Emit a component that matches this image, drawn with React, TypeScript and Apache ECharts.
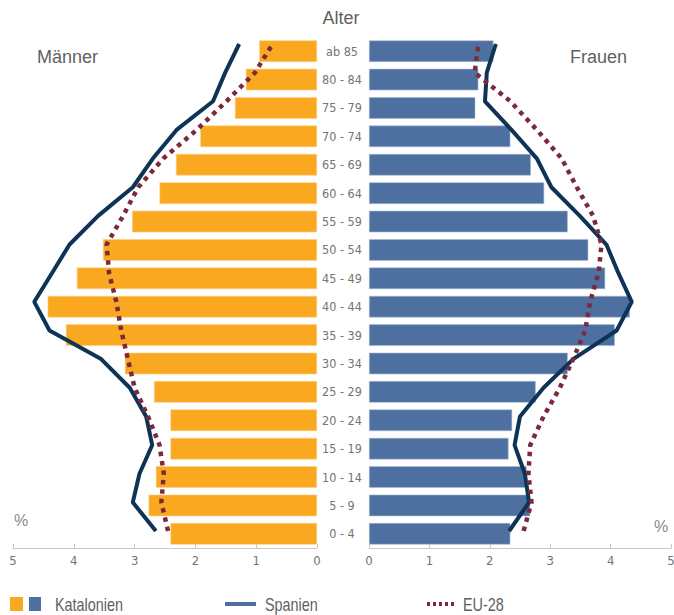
import React, { useEffect, useRef } from "react";
import * as echarts from "echarts";

const ageGroups = ["0 - 4", "5 - 9", "10 - 14", "15 - 19", "20 - 24", "25 - 29", "30 - 34", "35 - 39", "40 - 44", "45 - 49", "50 - 54", "55 - 59", "60 - 64", "65 - 69", "70 - 74", "75 - 79", "80 - 84", "ab 85"];
const xTicks = [0, 1, 2, 3, 4, 5];

// Katalonien
const kataMaenner = [2.41, 2.77, 2.65, 2.41, 2.41, 2.68, 3.16, 4.13, 4.43, 3.95, 3.52, 3.04, 2.59, 2.32, 1.92, 1.35, 1.17, 0.95];
const kataFrauen = [2.34, 2.67, 2.61, 2.31, 2.37, 2.76, 3.29, 4.07, 4.32, 3.91, 3.63, 3.29, 2.9, 2.68, 2.34, 1.76, 1.81, 2.06];
// Spanien
const spanMaenner = [2.65, 3.03, 2.92, 2.71, 2.81, 3.08, 3.55, 4.4, 4.65, 4.36, 4.07, 3.6, 3.03, 2.7, 2.31, 1.71, 1.51, 1.28];
const spanFrauen = [2.32, 2.65, 2.58, 2.41, 2.5, 2.89, 3.38, 4.1, 4.35, 4.13, 3.93, 3.49, 3.02, 2.78, 2.36, 1.92, 1.95, 2.1];
// EU-28
const euMaenner = [2.45, 2.56, 2.52, 2.59, 2.78, 3.0, 3.11, 3.22, 3.3, 3.42, 3.46, 3.19, 2.94, 2.53, 1.98, 1.49, 1.02, 0.73];
const euFrauen = [2.56, 2.69, 2.64, 2.67, 2.89, 3.16, 3.38, 3.58, 3.66, 3.8, 3.85, 3.71, 3.44, 3.19, 2.78, 2.34, 1.75, 1.81];

const ORANGE = "#F9A81F";
const BLUE = "#4E70A0";
const NAVY = "#0D3457";
const EU = "#7A2A3C";
const TXT = "#5f5f5f";
const LBL = "#747474";
const AX = "#c8c8c8";
const NARROW = "'DejaVu Sans Condensed', 'Liberation Sans Narrow', sans-serif";
const SANS = "'Liberation Sans', Arial, sans-serif";

export default function App() {
  const ref = useRef<HTMLDivElement>(null);
  useEffect(() => {
    if (!ref.current) return;
    const chart = echarts.init(ref.current, null, { renderer: "svg" });
    const g = (left: number, right: number, top: number, bottom: number) => ({ left, right, top, bottom, outerBoundsMode: "none", containLabel: false });
    const barGridL = g(13, 357, 37, 67);
    const barGridR = g(369, 3, 37, 67);
    const lineGridL = g(13, 357, 44, 84);
    const lineGridR = g(369, 3, 44, 84);
    const valAxis = (gridIndex: number, inverse: boolean, show: boolean) => ({
      type: "value",
      gridIndex,
      inverse,
      min: 0,
      max: 5,
      interval: 1,
      show,
      axisLine: { show: true, lineStyle: { color: AX, width: 1 } },
      axisTick: { show: true, inside: true, length: 4, lineStyle: { color: AX } },
      splitLine: { show: false },
      axisLabel: { color: LBL, fontSize: 13, fontFamily: NARROW, margin: 6, formatter: (v: number) => (xTicks.includes(v) ? String(v) : "") },
    });
    const catAxis = (gridIndex: number, boundaryGap: boolean, labels: boolean) => ({
      type: "category",
      gridIndex,
      data: ageGroups,
      boundaryGap,
      axisLine: { show: false },
      axisTick: { show: false },
      axisLabel: labels
        ? { show: true, color: LBL, fontSize: 12.5, fontFamily: NARROW, align: "center", margin: 27 }
        : { show: false },
    });
    const legendY = 604;
    const legText = (x: number, text: string) => ({
      type: "text",
      x,
      y: legendY,
      scaleX: 0.8,
      style: { text, fill: TXT, fontSize: 18, fontFamily: SANS, verticalAlign: "middle" },
    });
    chart.setOption({
      animation: false,
      grid: [barGridL, barGridR, lineGridL, lineGridR],
      xAxis: [valAxis(0, true, true), valAxis(1, false, true), valAxis(2, true, false), valAxis(3, false, false)],
      yAxis: [catAxis(0, true, false), catAxis(1, true, true), catAxis(2, false, false), catAxis(3, false, false)],
      series: [
        { name: "Katalonien Männer", type: "bar", xAxisIndex: 0, yAxisIndex: 0, data: kataMaenner, barCategoryGap: "24%", itemStyle: { color: ORANGE, borderColor: "#fcd089", borderWidth: 0.6 } },
        { name: "Katalonien Frauen", type: "bar", xAxisIndex: 1, yAxisIndex: 1, data: kataFrauen, barCategoryGap: "24%", itemStyle: { color: BLUE, borderColor: "#a9bad3", borderWidth: 0.6 } },
        { name: "Spanien Männer", type: "line", xAxisIndex: 2, yAxisIndex: 2, data: spanMaenner, symbol: "none", lineStyle: { color: NAVY, width: 4 }, z: 5 },
        { name: "Spanien Frauen", type: "line", xAxisIndex: 3, yAxisIndex: 3, data: spanFrauen, symbol: "none", lineStyle: { color: NAVY, width: 4 }, z: 5 },
        { name: "EU-28 Männer", type: "line", xAxisIndex: 2, yAxisIndex: 2, data: euMaenner, symbol: "none", lineStyle: { color: EU, width: 4.5, type: [4.5, 5] }, z: 6 },
        { name: "EU-28 Frauen", type: "line", xAxisIndex: 3, yAxisIndex: 3, data: euFrauen, symbol: "none", lineStyle: { color: EU, width: 4.5, type: [4.5, 5] }, z: 6 },
      ],
      graphic: [
        { type: "text", x: 341, y: 18, style: { text: "Alter", fill: TXT, fontSize: 18, fontFamily: SANS, align: "center", verticalAlign: "middle" } },
        { type: "text", x: 37, y: 57, style: { text: "Männer", fill: TXT, fontSize: 18, fontFamily: SANS, verticalAlign: "middle" } },
        { type: "text", x: 570, y: 57, style: { text: "Frauen", fill: TXT, fontSize: 18, fontFamily: SANS, verticalAlign: "middle" } },
        { type: "text", x: 14, y: 512, style: { text: "%", fill: "#8a8a8a", fontSize: 16, fontFamily: SANS } },
        { type: "text", x: 654, y: 518, style: { text: "%", fill: "#8a8a8a", fontSize: 16, fontFamily: SANS } },
        { type: "rect", shape: { x: 10, y: 597, width: 13, height: 14 }, style: { fill: ORANGE } },
        { type: "rect", shape: { x: 29, y: 597, width: 12, height: 14 }, style: { fill: BLUE } },
        legText(55, "Katalonien"),
        { type: "line", shape: { x1: 225, y1: legendY, x2: 256, y2: legendY }, style: { stroke: BLUE, lineWidth: 4 } },
        legText(265, "Spanien"),
        { type: "line", shape: { x1: 427, y1: legendY, x2: 457, y2: legendY }, style: { stroke: EU, lineWidth: 4, lineDash: [3, 3] } },
        legText(463, "EU-28"),
      ],
    });
    return () => chart.dispose();
  }, []);
  return <div ref={ref} style={{ position: "fixed", left: 0, top: 0, width: 674, height: 615, background: "#fff" }} />;
}
